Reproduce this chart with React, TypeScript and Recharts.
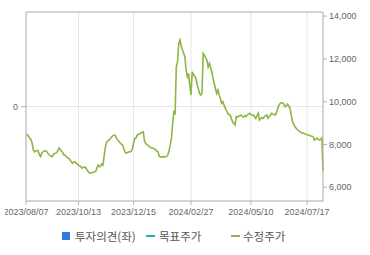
import React from 'react';
import { LineChart, Line, XAxis, YAxis, CartesianGrid } from 'recharts';

const START_DATE = '2023-08-07';
const TRADING_DAYS = 244;
const HOLIDAYS = [
  '2023-08-15', '2023-09-28', '2023-09-29', '2023-10-02', '2023-10-03', '2023-10-09',
  '2023-12-25', '2023-12-29', '2024-01-01', '2024-02-09', '2024-02-12', '2024-03-01',
  '2024-04-10', '2024-05-01', '2024-05-06', '2024-05-15', '2024-06-06',
];

const xTicks = ['2023/08/07', '2023/10/13', '2023/12/15', '2024/02/27', '2024/05/10', '2024/07/17'];
const priceTicks = [6000, 8000, 10000, 12000, 14000];
const opinionTicks = [0];

const adjustedPrice = [
  8490, 8450, 8380, 8300, 8240, 8070,
  7740, 7660, 7700, 7720, 7690, 7520,
  7440, 7610, 7660, 7700, 7710, 7660,
  7580, 7520, 7470, 7430, 7480, 7580,
  7590, 7620, 7700, 7840, 7780, 7710,
  7620, 7520, 7500, 7430, 7380, 7350,
  7270, 7200, 7120, 7180, 7200, 7120,
  7090, 7040, 7000, 6960, 6890, 6930,
  6960, 6900, 6810, 6730, 6660, 6680,
  6680, 6700, 6730, 6740, 6900, 7040,
  6960, 6980, 7090, 7040, 7500, 7900,
  8100, 8170, 8210, 8280, 8350, 8400,
  8440, 8420, 8300, 8210, 8150, 8080,
  8020, 7980, 7800, 7650, 7590, 7620,
  7650, 7660, 7670, 7800, 8050, 8290,
  8300, 8440, 8480, 8500, 8520, 8580,
  8590, 8130, 8060, 7990, 7950, 7900,
  7860, 7840, 7820, 7800, 7750, 7700,
  7660, 7450, 7430, 7410, 7430, 7420,
  7430, 7440, 7500, 7700, 7980, 8300,
  8990, 9530, 9460, 11630, 11870, 12720,
  12880, 12600, 12410, 12260, 12100, 11480,
  11170, 11320, 10780, 10310, 11400, 11250,
  11200, 11090, 10780, 10620, 10390, 10310,
  10400, 12260, 12180, 12050, 11950, 11630,
  11790, 11600, 11400, 11100, 10860, 10600,
  10390, 10550, 10300, 10160, 9920, 10000,
  9850, 9690, 9600, 9460, 9400, 9380,
  9220, 9060, 8980, 8910, 9300, 9280,
  9320, 9350, 9380, 9300, 9280, 9350,
  9300, 9380, 9420, 9460, 9400, 9380,
  9380, 9300, 9220, 9350, 9460, 9140,
  9200, 9260, 9220, 9300, 9350, 9380,
  9220, 9300, 9380, 9460, 9420, 9400,
  9380, 9500, 9690, 9850, 9920, 9950,
  9950, 9880, 9760, 9820, 9890, 9800,
  9690, 9380, 9070, 8950, 8850, 8760,
  8700, 8650, 8600, 8560, 8540, 8520,
  8500, 8480, 8460, 8440, 8430, 8400,
  8380, 8360, 8210, 8250, 8290, 8260,
  8210, 8240, 8300, 6760,
];

const pad = (n: number) => (n < 10 ? '0' + n : '' + n);

function buildDates(): string[] {
  const out: string[] = [];
  const [y, m, d] = START_DATE.split('-').map(Number);
  let t = Date.UTC(y, m - 1, d);
  while (out.length < TRADING_DAYS) {
    const dt = new Date(t);
    const dow = dt.getUTCDay();
    const iso = `${dt.getUTCFullYear()}-${pad(dt.getUTCMonth() + 1)}-${pad(dt.getUTCDate())}`;
    if (dow !== 0 && dow !== 6 && HOLIDAYS.indexOf(iso) < 0) {
      out.push(iso.replace(/-/g, '/'));
    }
    t += 86400000;
  }
  return out;
}

const dates = buildDates();
const data = dates.map((date, i) => ({ date, price: adjustedPrice[i], opinion: null as number | null }));

const FONT = 'Arial, "Liberation Sans", sans-serif';
const KFONT = '"Noto Sans CJK KR", "Noto Sans", sans-serif';
const AXIS = '#b4b4b4';
const GRID = '#e6e6e6';
const GREEN = '#8db543';
const CLIP = 5;

const fmt = (v: number) => v.toLocaleString('en-US');

const legendText: React.CSSProperties = {
  position: 'absolute',
  top: 227,
  fontFamily: KFONT,
  fontSize: 11.5,
  color: '#555',
  lineHeight: '18px',
  whiteSpace: 'nowrap',
};

export default function App() {
  return (
    <div style={{ position: 'absolute', left: 0, top: 0, width: 370, height: 255, background: '#fff' }}>
      <div style={{ position: 'absolute', left: CLIP, top: 0, width: 370 - CLIP, height: 255, overflow: 'hidden' }}>
        <div style={{ position: 'absolute', left: -CLIP, top: 0 }}>
          <LineChart
            width={370}
            height={255}
            data={data}
            margin={{ top: 11, right: 0, left: 0, bottom: 34 }}
          >
            <CartesianGrid stroke={GRID} strokeWidth={1} yAxisId="left" />
            <XAxis
              dataKey="date"
              ticks={xTicks}
              interval={0}
              height={20}
              tickSize={4}
              tickMargin={4}
              stroke={AXIS}
              tick={{ fill: '#666', fontSize: 9, fontFamily: FONT }}
            />
            <XAxis
              xAxisId="top"
              dataKey="date"
              orientation="top"
              height={1}
              tick={false}
              tickLine={false}
              axisLine={{ stroke: AXIS }}
              stroke={AXIS}
            />
            <YAxis
              yAxisId="left"
              type="number"
              domain={[-1, 1]}
              allowDataOverflow
              ticks={opinionTicks}
              interval={0}
              width={26}
              tickSize={5}
              tickMargin={3}
              stroke={AXIS}
              tick={{ fill: '#666', fontSize: 9, fontFamily: FONT }}
            />
            <YAxis
              yAxisId="right"
              orientation="right"
              domain={[5360, 14190]}
              ticks={priceTicks}
              tickFormatter={fmt}
              width={47}
              tickSize={4}
              tickMargin={2}
              stroke={AXIS}
              tick={{ fill: '#666', fontSize: 9, fontFamily: FONT, textAnchor: 'start' }}
            />
            <Line
              yAxisId="left"
              xAxisId="top"
              type="linear"
              dataKey="opinion"
              stroke="#2b7de1"
              dot={false}
              activeDot={false}
              legendType="square"
              isAnimationActive={false}
            />
            <Line
              yAxisId="right"
              xAxisId={0}
              type="linear"
              dataKey="price"
              stroke={GREEN}
              strokeWidth={1.6}
              dot={false}
              activeDot={false}
              isAnimationActive={false}
            />
          </LineChart>
        </div>
      </div>
      <div style={{ position: 'absolute', left: 62, top: 232, width: 8, height: 8, background: '#2b7de1' }} />
      <div style={{ ...legendText, left: 75 }}>투자의견(좌)</div>
      <div style={{ position: 'absolute', left: 146, top: 235, width: 9, height: 2, background: '#1fb3b8' }} />
      <div style={{ ...legendText, left: 159 }}>목표주가</div>
      <div style={{ position: 'absolute', left: 231, top: 235, width: 9, height: 2, background: GREEN }} />
      <div style={{ ...legendText, left: 243 }}>수정주가</div>
    </div>
  );
}
